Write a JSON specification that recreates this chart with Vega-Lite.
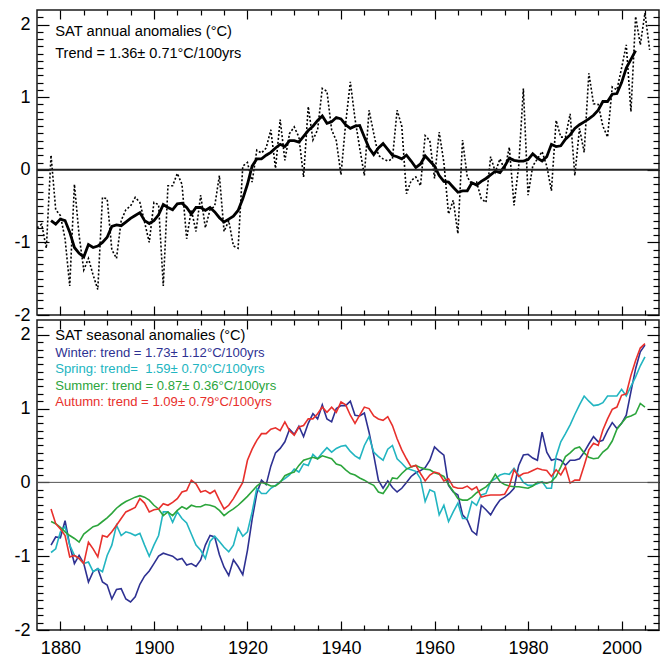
{
  "$schema": "https://vega.github.io/schema/vega-lite/v6.json",
  "autosize": {"type": "pad"},
  "padding": {"left": 13, "top": 7, "right": 4, "bottom": 0},
  "spacing": 5,
  "bounds": "flush",
  "background": "white",
  "config": {
    "view": {"stroke": "#1a1a1a", "strokeWidth": 1.5},
    "font": "Liberation Sans",
    "text": {"font": "Liberation Sans"}
  },
  "data": {"values": [{}]},
  "datasets": {
    "annual": [
      {"year":1875,"v":-0.80},{"year":1876,"v":-0.75},{"year":1877,"v":-1.08},{"year":1878,"v":0.20},{"year":1879,"v":-0.55},
      {"year":1880,"v":-0.63},{"year":1881,"v":-0.95},{"year":1882,"v":-1.60},{"year":1883,"v":-0.20},{"year":1884,"v":-0.90},
      {"year":1885,"v":-1.38},{"year":1886,"v":-1.22},{"year":1887,"v":-1.45},{"year":1888,"v":-1.65},{"year":1889,"v":-0.38},
      {"year":1890,"v":-0.40},{"year":1891,"v":-1.10},{"year":1892,"v":-1.22},{"year":1893,"v":-0.70},{"year":1894,"v":-0.55},
      {"year":1895,"v":-0.50},{"year":1896,"v":-0.38},{"year":1897,"v":-0.45},{"year":1898,"v":-0.72},{"year":1899,"v":-1.00},
      {"year":1900,"v":-0.45},{"year":1901,"v":-0.48},{"year":1902,"v":-1.60},{"year":1903,"v":-0.22},{"year":1904,"v":-0.22},
      {"year":1905,"v":-0.05},{"year":1906,"v":-0.20},{"year":1907,"v":-0.95},{"year":1908,"v":-0.55},{"year":1909,"v":-0.85},
      {"year":1910,"v":-0.35},{"year":1911,"v":-0.80},{"year":1912,"v":-0.55},{"year":1913,"v":-0.50},{"year":1914,"v":-0.08},
      {"year":1915,"v":-0.85},{"year":1916,"v":-0.70},{"year":1917,"v":-1.05},{"year":1918,"v":-1.08},{"year":1919,"v":0.05},
      {"year":1920,"v":0.10},{"year":1921,"v":-0.17},{"year":1922,"v":0.27},{"year":1923,"v":0.23},{"year":1924,"v":0.30},
      {"year":1925,"v":0.55},{"year":1926,"v":0.02},{"year":1927,"v":0.69},{"year":1928,"v":0.13},{"year":1929,"v":0.50},
      {"year":1930,"v":0.59},{"year":1931,"v":0.45},{"year":1932,"v":-0.10},{"year":1933,"v":0.87},{"year":1934,"v":0.41},
      {"year":1935,"v":0.55},{"year":1936,"v":1.12},{"year":1937,"v":1.08},{"year":1938,"v":0.55},{"year":1939,"v":0.40},
      {"year":1940,"v":-0.07},{"year":1941,"v":0.64},{"year":1942,"v":1.21},{"year":1943,"v":0.70},{"year":1944,"v":0.30},
      {"year":1945,"v":-0.08},{"year":1946,"v":0.82},{"year":1947,"v":0.50},{"year":1948,"v":0.20},{"year":1949,"v":0.15},
      {"year":1950,"v":0.12},{"year":1951,"v":0.15},{"year":1952,"v":0.82},{"year":1953,"v":0.60},{"year":1954,"v":-0.33},
      {"year":1955,"v":-0.15},{"year":1956,"v":-0.10},{"year":1957,"v":-0.22},{"year":1958,"v":0.47},{"year":1959,"v":0.40},
      {"year":1960,"v":-0.12},{"year":1961,"v":0.52},{"year":1962,"v":0.10},{"year":1963,"v":-0.61},{"year":1964,"v":-0.42},
      {"year":1965,"v":-0.88},{"year":1966,"v":0.41},{"year":1967,"v":-0.10},{"year":1968,"v":-0.20},{"year":1969,"v":-0.17},
      {"year":1970,"v":-0.40},{"year":1971,"v":-0.45},{"year":1972,"v":0.18},{"year":1973,"v":-0.03},{"year":1974,"v":0.15},
      {"year":1975,"v":0.00},{"year":1976,"v":0.31},{"year":1977,"v":-0.49},{"year":1978,"v":0.05},{"year":1979,"v":1.12},
      {"year":1980,"v":-0.35},{"year":1981,"v":0.05},{"year":1982,"v":0.15},{"year":1983,"v":0.25},{"year":1984,"v":0.05},
      {"year":1985,"v":-0.29},{"year":1986,"v":0.68},{"year":1987,"v":0.45},{"year":1988,"v":0.45},{"year":1989,"v":0.77},
      {"year":1990,"v":-0.08},{"year":1991,"v":0.57},{"year":1992,"v":0.24},{"year":1993,"v":1.33},{"year":1994,"v":0.91},
      {"year":1995,"v":0.90},{"year":1996,"v":0.60},{"year":1997,"v":0.45},{"year":1998,"v":1.14},{"year":1999,"v":1.10},
      {"year":2000,"v":1.40},{"year":2001,"v":1.72},{"year":2002,"v":0.80},{"year":2003,"v":2.11},{"year":2004,"v":1.72},
      {"year":2005,"v":2.16},{"year":2006,"v":1.65}
    ],
    "smooth": [
      {"year":1878,"v":-0.70},{"year":1879,"v":-0.75},{"year":1880,"v":-0.68},{"year":1881,"v":-0.70},{"year":1882,"v":-0.86},
      {"year":1883,"v":-1.07},{"year":1884,"v":-1.15},{"year":1885,"v":-1.20},{"year":1886,"v":-1.03},{"year":1887,"v":-1.07},
      {"year":1888,"v":-1.05},{"year":1889,"v":-1.00},{"year":1890,"v":-0.93},{"year":1891,"v":-0.78},{"year":1892,"v":-0.76},
      {"year":1893,"v":-0.77},{"year":1894,"v":-0.72},{"year":1895,"v":-0.67},{"year":1896,"v":-0.63},{"year":1897,"v":-0.59},
      {"year":1898,"v":-0.70},{"year":1899,"v":-0.74},{"year":1900,"v":-0.70},{"year":1901,"v":-0.62},{"year":1902,"v":-0.48},
      {"year":1903,"v":-0.52},{"year":1904,"v":-0.55},{"year":1905,"v":-0.47},{"year":1906,"v":-0.46},{"year":1907,"v":-0.52},
      {"year":1908,"v":-0.61},{"year":1909,"v":-0.52},{"year":1910,"v":-0.52},{"year":1911,"v":-0.56},{"year":1912,"v":-0.52},
      {"year":1913,"v":-0.58},{"year":1914,"v":-0.66},{"year":1915,"v":-0.72},{"year":1916,"v":-0.68},{"year":1917,"v":-0.64},
      {"year":1918,"v":-0.56},{"year":1919,"v":-0.40},{"year":1920,"v":-0.20},{"year":1921,"v":0.05},{"year":1922,"v":0.15},
      {"year":1923,"v":0.15},{"year":1924,"v":0.20},{"year":1925,"v":0.24},{"year":1926,"v":0.30},{"year":1927,"v":0.35},
      {"year":1928,"v":0.32},{"year":1929,"v":0.40},{"year":1930,"v":0.40},{"year":1931,"v":0.38},{"year":1932,"v":0.46},
      {"year":1933,"v":0.54},{"year":1934,"v":0.60},{"year":1935,"v":0.68},{"year":1936,"v":0.74},{"year":1937,"v":0.64},
      {"year":1938,"v":0.66},{"year":1939,"v":0.72},{"year":1940,"v":0.70},{"year":1941,"v":0.62},{"year":1942,"v":0.57},
      {"year":1943,"v":0.60},{"year":1944,"v":0.61},{"year":1945,"v":0.45},{"year":1946,"v":0.30},{"year":1947,"v":0.21},
      {"year":1948,"v":0.30},{"year":1949,"v":0.36},{"year":1950,"v":0.28},{"year":1951,"v":0.20},{"year":1952,"v":0.18},
      {"year":1953,"v":0.15},{"year":1954,"v":0.20},{"year":1955,"v":0.12},{"year":1956,"v":0.03},{"year":1957,"v":0.08},
      {"year":1958,"v":0.19},{"year":1959,"v":0.12},{"year":1960,"v":0.05},{"year":1961,"v":-0.08},{"year":1962,"v":-0.16},
      {"year":1963,"v":-0.17},{"year":1964,"v":-0.24},{"year":1965,"v":-0.31},{"year":1966,"v":-0.29},{"year":1967,"v":-0.29},
      {"year":1968,"v":-0.18},{"year":1969,"v":-0.21},{"year":1970,"v":-0.16},{"year":1971,"v":-0.12},{"year":1972,"v":-0.07},
      {"year":1973,"v":-0.02},{"year":1974,"v":-0.04},{"year":1975,"v":0.05},{"year":1976,"v":0.16},{"year":1977,"v":0.13},
      {"year":1978,"v":0.12},{"year":1979,"v":0.12},{"year":1980,"v":0.14},{"year":1981,"v":0.22},{"year":1982,"v":0.16},
      {"year":1983,"v":0.12},{"year":1984,"v":0.18},{"year":1985,"v":0.35},{"year":1986,"v":0.32},{"year":1987,"v":0.33},
      {"year":1988,"v":0.42},{"year":1989,"v":0.48},{"year":1990,"v":0.57},{"year":1991,"v":0.62},{"year":1992,"v":0.66},
      {"year":1993,"v":0.70},{"year":1994,"v":0.75},{"year":1995,"v":0.82},{"year":1996,"v":0.94},{"year":1997,"v":0.94},
      {"year":1998,"v":1.04},{"year":1999,"v":1.05},{"year":2000,"v":1.20},{"year":2001,"v":1.40},{"year":2002,"v":1.52},
      {"year":2003,"v":1.64}
    ],
    "seasonal": [
      {"year":1878,"Winter":-0.85,"Spring":-0.95,"Summer":-0.53,"Autumn":-0.36},
      {"year":1879,"Winter":-0.74,"Spring":-0.90,"Summer":-0.56,"Autumn":-0.56},
      {"year":1880,"Winter":-0.75,"Spring":-0.67,"Summer":-0.61,"Autumn":-0.63},
      {"year":1881,"Winter":-0.52,"Spring":-0.60,"Summer":-0.67,"Autumn":-0.72},
      {"year":1882,"Winter":-0.85,"Spring":-0.85,"Summer":-0.72,"Autumn":-1.01},
      {"year":1883,"Winter":-1.10,"Spring":-0.99,"Summer":-0.76,"Autumn":-0.99},
      {"year":1884,"Winter":-0.99,"Spring":-1.03,"Summer":-0.81,"Autumn":-1.03},
      {"year":1885,"Winter":-1.10,"Spring":-1.10,"Summer":-0.70,"Autumn":-1.10},
      {"year":1886,"Winter":-1.35,"Spring":-1.08,"Summer":-0.65,"Autumn":-0.81},
      {"year":1887,"Winter":-1.21,"Spring":-1.21,"Summer":-0.60,"Autumn":-0.90},
      {"year":1888,"Winter":-1.17,"Spring":-1.17,"Summer":-0.58,"Autumn":-1.01},
      {"year":1889,"Winter":-1.35,"Spring":-1.21,"Summer":-0.53,"Autumn":-0.72},
      {"year":1890,"Winter":-1.39,"Spring":-0.99,"Summer":-0.48,"Autumn":-0.74},
      {"year":1891,"Winter":-1.58,"Spring":-0.85,"Summer":-0.42,"Autumn":-0.67},
      {"year":1892,"Winter":-1.45,"Spring":-0.58,"Summer":-0.35,"Autumn":-0.58},
      {"year":1893,"Winter":-1.44,"Spring":-0.72,"Summer":-0.30,"Autumn":-0.49},
      {"year":1894,"Winter":-1.58,"Spring":-0.67,"Summer":-0.26,"Autumn":-0.40},
      {"year":1895,"Winter":-1.62,"Spring":-0.69,"Summer":-0.23,"Autumn":-0.37},
      {"year":1896,"Winter":-1.55,"Spring":-0.72,"Summer":-0.20,"Autumn":-0.34},
      {"year":1897,"Winter":-1.38,"Spring":-0.69,"Summer":-0.18,"Autumn":-0.22},
      {"year":1898,"Winter":-1.27,"Spring":-0.85,"Summer":-0.20,"Autumn":-0.28},
      {"year":1899,"Winter":-1.20,"Spring":-1.00,"Summer":-0.24,"Autumn":-0.40},
      {"year":1900,"Winter":-1.10,"Spring":-0.85,"Summer":-0.31,"Autumn":-0.37},
      {"year":1901,"Winter":-1.00,"Spring":-0.72,"Summer":-0.36,"Autumn":-0.36},
      {"year":1902,"Winter":-0.96,"Spring":-0.40,"Summer":-0.45,"Autumn":-0.29},
      {"year":1903,"Winter":-0.98,"Spring":-0.40,"Summer":-0.40,"Autumn":-0.31},
      {"year":1904,"Winter":-1.00,"Spring":-0.54,"Summer":-0.45,"Autumn":-0.27},
      {"year":1905,"Winter":-1.05,"Spring":-0.40,"Summer":-0.38,"Autumn":-0.22},
      {"year":1906,"Winter":-1.03,"Spring":-0.49,"Summer":-0.33,"Autumn":-0.13},
      {"year":1907,"Winter":-1.12,"Spring":-0.55,"Summer":-0.36,"Autumn":-0.11},
      {"year":1908,"Winter":-1.10,"Spring":-0.70,"Summer":-0.31,"Autumn":0.03},
      {"year":1909,"Winter":-1.14,"Spring":-0.85,"Summer":-0.33,"Autumn":-0.02},
      {"year":1910,"Winter":-1.05,"Spring":-0.92,"Summer":-0.33,"Autumn":-0.13},
      {"year":1911,"Winter":-0.85,"Spring":-1.03,"Summer":-0.30,"Autumn":-0.11},
      {"year":1912,"Winter":-0.72,"Spring":-0.80,"Summer":-0.31,"Autumn":-0.15},
      {"year":1913,"Winter":-0.74,"Spring":-0.73,"Summer":-0.33,"Autumn":-0.11},
      {"year":1914,"Winter":-0.98,"Spring":-0.80,"Summer":-0.38,"Autumn":-0.24},
      {"year":1915,"Winter":-1.15,"Spring":-0.88,"Summer":-0.45,"Autumn":-0.36},
      {"year":1916,"Winter":-1.26,"Spring":-0.94,"Summer":-0.40,"Autumn":-0.31},
      {"year":1917,"Winter":-1.05,"Spring":-0.85,"Summer":-0.36,"Autumn":-0.22},
      {"year":1918,"Winter":-1.14,"Spring":-0.62,"Summer":-0.31,"Autumn":-0.11},
      {"year":1919,"Winter":-1.25,"Spring":-0.73,"Summer":-0.25,"Autumn":0.00},
      {"year":1920,"Winter":-0.92,"Spring":-0.67,"Summer":-0.19,"Autumn":0.30},
      {"year":1921,"Winter":-0.50,"Spring":-0.40,"Summer":-0.12,"Autumn":0.45},
      {"year":1922,"Winter":-0.15,"Spring":-0.08,"Summer":-0.05,"Autumn":0.57},
      {"year":1923,"Winter":0.03,"Spring":-0.15,"Summer":0.00,"Autumn":0.66},
      {"year":1924,"Winter":-0.03,"Spring":-0.15,"Summer":-0.02,"Autumn":0.66},
      {"year":1925,"Winter":0.22,"Spring":-0.08,"Summer":-0.05,"Autumn":0.72},
      {"year":1926,"Winter":0.40,"Spring":-0.04,"Summer":-0.05,"Autumn":0.74},
      {"year":1927,"Winter":0.46,"Spring":0.01,"Summer":0.00,"Autumn":0.70},
      {"year":1928,"Winter":0.55,"Spring":0.05,"Summer":0.09,"Autumn":0.82},
      {"year":1929,"Winter":0.72,"Spring":0.10,"Summer":0.12,"Autumn":0.70},
      {"year":1930,"Winter":0.65,"Spring":0.18,"Summer":0.14,"Autumn":0.64},
      {"year":1931,"Winter":0.76,"Spring":0.14,"Summer":0.23,"Autumn":0.75},
      {"year":1932,"Winter":0.62,"Spring":0.25,"Summer":0.30,"Autumn":0.77},
      {"year":1933,"Winter":0.80,"Spring":0.23,"Summer":0.32,"Autumn":0.86},
      {"year":1934,"Winter":0.93,"Spring":0.38,"Summer":0.34,"Autumn":0.86},
      {"year":1935,"Winter":0.86,"Spring":0.32,"Summer":0.32,"Autumn":0.93},
      {"year":1936,"Winter":1.05,"Spring":0.40,"Summer":0.36,"Autumn":1.02},
      {"year":1937,"Winter":0.86,"Spring":0.47,"Summer":0.34,"Autumn":0.95},
      {"year":1938,"Winter":0.82,"Spring":0.41,"Summer":0.32,"Autumn":1.02},
      {"year":1939,"Winter":1.00,"Spring":0.46,"Summer":0.25,"Autumn":0.95},
      {"year":1940,"Winter":1.04,"Spring":0.49,"Summer":0.23,"Autumn":1.09},
      {"year":1941,"Winter":1.04,"Spring":0.50,"Summer":0.17,"Autumn":1.05},
      {"year":1942,"Winter":1.10,"Spring":0.42,"Summer":0.12,"Autumn":0.91},
      {"year":1943,"Winter":0.91,"Spring":0.36,"Summer":0.10,"Autumn":0.80},
      {"year":1944,"Winter":0.90,"Spring":0.32,"Summer":0.06,"Autumn":0.91},
      {"year":1945,"Winter":0.94,"Spring":0.50,"Summer":0.03,"Autumn":1.02},
      {"year":1946,"Winter":0.68,"Spring":0.62,"Summer":-0.01,"Autumn":1.00},
      {"year":1947,"Winter":0.37,"Spring":0.41,"Summer":-0.04,"Autumn":0.90},
      {"year":1948,"Winter":0.03,"Spring":0.35,"Summer":-0.13,"Autumn":0.86},
      {"year":1949,"Winter":-0.08,"Spring":0.30,"Summer":-0.15,"Autumn":0.84},
      {"year":1950,"Winter":0.02,"Spring":0.45,"Summer":-0.06,"Autumn":0.89},
      {"year":1951,"Winter":-0.07,"Spring":0.50,"Summer":0.06,"Autumn":0.77},
      {"year":1952,"Winter":-0.13,"Spring":0.32,"Summer":0.05,"Autumn":0.59},
      {"year":1953,"Winter":-0.08,"Spring":0.26,"Summer":0.12,"Autumn":0.44},
      {"year":1954,"Winter":0.00,"Spring":0.19,"Summer":0.18,"Autumn":0.32},
      {"year":1955,"Winter":0.08,"Spring":0.17,"Summer":0.21,"Autumn":0.21},
      {"year":1956,"Winter":0.13,"Spring":0.15,"Summer":0.23,"Autumn":0.23},
      {"year":1957,"Winter":0.16,"Spring":0.05,"Summer":0.20,"Autumn":0.12},
      {"year":1958,"Winter":0.20,"Spring":-0.26,"Summer":0.18,"Autumn":0.02},
      {"year":1959,"Winter":0.30,"Spring":-0.10,"Summer":0.17,"Autumn":0.10},
      {"year":1960,"Winter":0.48,"Spring":-0.13,"Summer":0.13,"Autumn":0.14},
      {"year":1961,"Winter":0.42,"Spring":-0.44,"Summer":0.11,"Autumn":0.12},
      {"year":1962,"Winter":0.37,"Spring":-0.31,"Summer":0.08,"Autumn":0.02},
      {"year":1963,"Winter":-0.04,"Spring":-0.53,"Summer":-0.03,"Autumn":0.05},
      {"year":1964,"Winter":-0.13,"Spring":-0.40,"Summer":-0.12,"Autumn":-0.06},
      {"year":1965,"Winter":-0.17,"Spring":-0.28,"Summer":-0.22,"Autumn":-0.08},
      {"year":1966,"Winter":-0.44,"Spring":-0.49,"Summer":-0.24,"Autumn":-0.08},
      {"year":1967,"Winter":-0.51,"Spring":-0.49,"Summer":-0.24,"Autumn":-0.05},
      {"year":1968,"Winter":-0.66,"Spring":-0.26,"Summer":-0.20,"Autumn":-0.10},
      {"year":1969,"Winter":-0.71,"Spring":-0.31,"Summer":-0.14,"Autumn":-0.06},
      {"year":1970,"Winter":-0.31,"Spring":-0.17,"Summer":-0.10,"Autumn":-0.20},
      {"year":1971,"Winter":-0.37,"Spring":-0.15,"Summer":-0.06,"Autumn":-0.18},
      {"year":1972,"Winter":-0.44,"Spring":0.01,"Summer":0.00,"Autumn":-0.17},
      {"year":1973,"Winter":-0.33,"Spring":0.05,"Summer":0.11,"Autumn":-0.17},
      {"year":1974,"Winter":-0.24,"Spring":0.10,"Summer":0.01,"Autumn":-0.17},
      {"year":1975,"Winter":-0.20,"Spring":0.12,"Summer":-0.03,"Autumn":-0.16},
      {"year":1976,"Winter":-0.15,"Spring":0.11,"Summer":-0.05,"Autumn":-0.05},
      {"year":1977,"Winter":-0.08,"Spring":0.19,"Summer":-0.06,"Autumn":0.17},
      {"year":1978,"Winter":0.23,"Spring":0.10,"Summer":-0.06,"Autumn":0.08},
      {"year":1979,"Winter":0.37,"Spring":0.00,"Summer":-0.07,"Autumn":0.12},
      {"year":1980,"Winter":0.38,"Spring":-0.04,"Summer":-0.08,"Autumn":0.13},
      {"year":1981,"Winter":0.33,"Spring":-0.04,"Summer":-0.05,"Autumn":0.16},
      {"year":1982,"Winter":0.30,"Spring":-0.02,"Summer":0.00,"Autumn":0.19},
      {"year":1983,"Winter":0.68,"Spring":0.01,"Summer":0.00,"Autumn":0.17},
      {"year":1984,"Winter":0.41,"Spring":-0.08,"Summer":-0.01,"Autumn":0.16},
      {"year":1985,"Winter":0.30,"Spring":-0.08,"Summer":0.01,"Autumn":0.08},
      {"year":1986,"Winter":0.32,"Spring":0.35,"Summer":0.08,"Autumn":0.17},
      {"year":1987,"Winter":0.30,"Spring":0.55,"Summer":0.21,"Autumn":0.10},
      {"year":1988,"Winter":0.23,"Spring":0.66,"Summer":0.35,"Autumn":0.21},
      {"year":1989,"Winter":0.30,"Spring":0.78,"Summer":0.40,"Autumn":-0.01},
      {"year":1990,"Winter":0.30,"Spring":0.92,"Summer":0.46,"Autumn":0.03},
      {"year":1991,"Winter":0.32,"Spring":1.05,"Summer":0.48,"Autumn":0.03},
      {"year":1992,"Winter":0.41,"Spring":1.17,"Summer":0.40,"Autumn":0.23},
      {"year":1993,"Winter":0.52,"Spring":1.10,"Summer":0.34,"Autumn":0.44},
      {"year":1994,"Winter":0.62,"Spring":1.04,"Summer":0.32,"Autumn":0.53},
      {"year":1995,"Winter":0.55,"Spring":1.05,"Summer":0.33,"Autumn":0.50},
      {"year":1996,"Winter":0.57,"Spring":1.08,"Summer":0.41,"Autumn":0.71},
      {"year":1997,"Winter":0.70,"Spring":1.17,"Summer":0.46,"Autumn":0.86},
      {"year":1998,"Winter":0.81,"Spring":1.17,"Summer":0.56,"Autumn":0.99},
      {"year":1999,"Winter":0.73,"Spring":1.17,"Summer":0.72,"Autumn":1.02},
      {"year":2000,"Winter":0.80,"Spring":1.26,"Summer":0.80,"Autumn":1.18},
      {"year":2001,"Winter":0.91,"Spring":1.17,"Summer":0.88,"Autumn":1.20},
      {"year":2002,"Winter":1.23,"Spring":1.30,"Summer":0.90,"Autumn":1.45},
      {"year":2003,"Winter":1.54,"Spring":1.43,"Summer":0.93,"Autumn":1.65},
      {"year":2004,"Winter":1.77,"Spring":1.58,"Summer":1.07,"Autumn":1.82},
      {"year":2005,"Winter":1.86,"Spring":1.70,"Summer":1.02,"Autumn":1.88}
    ]
  },
  "vconcat": [
    {
      "width": 622,
      "height": 305,
      "layer": [
        {
          "data": {"name": "annual"},
          "mark": {"type": "line", "color": "#000", "strokeWidth": 1.6, "strokeDash": [2, 2], "clip": true},
          "encoding": {
            "x": {"field": "year", "type": "quantitative", "scale": {"domain": [1875, 2008], "nice": false, "zero": false},
              "axis": {"orient": "bottom", "values": [1880,1885,1890,1895,1900,1905,1910,1915,1920,1925,1930,1935,1940,1945,1950,1955,1960,1965,1970,1975,1980,1985,1990,1995,2000,2005],
                "labels": false, "domain": false, "grid": false, "title": null, "tickColor": "#000", "tickWidth": 1.2,
                "tickSize": {"condition": {"test": "datum.value % 20 === 0", "value": -9}, "value": -5}}},
            "y": {"field": "v", "type": "quantitative", "scale": {"domain": [-2, 2.2], "nice": false, "zero": false},
              "axis": {"orient": "left", "values": [-2,-1.9,-1.8,-1.7,-1.6,-1.5,-1.4,-1.3,-1.2,-1.1,-1,-0.9,-0.8,-0.7,-0.6,-0.5,-0.4,-0.3,-0.2,-0.1,0,0.1,0.2,0.3,0.4,0.5,0.6,0.7,0.8,0.9,1,1.1,1.2,1.3,1.4,1.5,1.6,1.7,1.8,1.9,2,2.1],
                "labelExpr": "abs(datum.value - round(datum.value)) < 0.001 ? '' + round(datum.value) : ''",
                "labelOverlap": false, "labelFlush": false, "labelBound": false,
                "labelFont": "Liberation Sans", "labelFontSize": 18, "labelColor": "#000", "labelPadding": 19,
                "domain": false, "grid": false, "title": null, "tickColor": "#000", "tickWidth": 1.2,
                "tickSize": {"condition": {"test": "abs(datum.value - round(datum.value)) < 0.001", "value": -12}, "value": -6}}}
          }
        },
        {
          "data": {"name": "smooth"},
          "mark": {"type": "line", "color": "#000", "strokeWidth": 2.8, "clip": true},
          "encoding": {
            "x": {"field": "year", "type": "quantitative", "axis": null},
            "y": {"field": "v", "type": "quantitative", "axis": null}
          }
        },
        {
          "mark": {"type": "rule", "color": "#222", "strokeWidth": 2},
          "encoding": {"y": {"datum": 0, "type": "quantitative", "axis": null}}
        },
        {
          "mark": {"type": "text", "text": "SAT annual anomalies (°C)", "align": "left", "baseline": "middle", "fontSize": 14.7, "color": "#000"},
          "encoding": {
            "x": {"datum": 1878.9, "type": "quantitative",
              "axis": {"orient": "top", "values": [1880,1885,1890,1895,1900,1905,1910,1915,1920,1925,1930,1935,1940,1945,1950,1955,1960,1965,1970,1975,1980,1985,1990,1995,2000,2005],
                "labels": false, "domain": false, "grid": false, "title": null, "tickColor": "#000", "tickWidth": 1.2,
                "tickSize": {"condition": {"test": "datum.value % 20 === 0", "value": -9}, "value": -5}}},
            "y": {"datum": 1.9, "type": "quantitative",
              "axis": {"orient": "right", "values": [-2,-1.9,-1.8,-1.7,-1.6,-1.5,-1.4,-1.3,-1.2,-1.1,-1,-0.9,-0.8,-0.7,-0.6,-0.5,-0.4,-0.3,-0.2,-0.1,0,0.1,0.2,0.3,0.4,0.5,0.6,0.7,0.8,0.9,1,1.1,1.2,1.3,1.4,1.5,1.6,1.7,1.8,1.9,2,2.1],
                "labels": false, "domain": false, "grid": false, "title": null, "tickColor": "#000", "tickWidth": 1.2,
                "tickSize": {"condition": {"test": "abs(datum.value - round(datum.value)) < 0.001", "value": -12}, "value": -6}}}
          }
        },
        {
          "mark": {"type": "text", "text": "Trend = 1.36± 0.71°C/100yrs", "align": "left", "baseline": "middle", "fontSize": 14.5, "color": "#000"},
          "encoding": {
            "x": {"datum": 1878.9, "type": "quantitative", "axis": null},
            "y": {"datum": 1.595, "type": "quantitative", "axis": null}
          }
        }
      ],
      "resolve": {"axis": {"x": "independent", "y": "independent"}}
    },
    {
      "width": 622,
      "height": 310,
      "layer": [
        {
          "data": {"name": "seasonal"},
          "transform": [{"fold": ["Winter", "Spring", "Summer", "Autumn"], "as": ["season", "v"]}],
          "mark": {"type": "line", "strokeWidth": 1.6, "clip": true},
          "encoding": {
            "x": {"field": "year", "type": "quantitative", "scale": {"domain": [1875, 2008], "nice": false, "zero": false},
              "axis": {"orient": "bottom", "values": [1880,1885,1890,1895,1900,1905,1910,1915,1920,1925,1930,1935,1940,1945,1950,1955,1960,1965,1970,1975,1980,1985,1990,1995,2000,2005],
                "labelExpr": "datum.value % 20 === 0 ? '' + datum.value : ''",
                "labelOverlap": false, "labelFlush": false, "labelBound": false,
                "labelFont": "Liberation Sans", "labelFontSize": 18, "labelColor": "#000", "labelPadding": 18,
                "domain": false, "grid": false, "title": null, "tickColor": "#000", "tickWidth": 1.2,
                "tickSize": {"condition": {"test": "datum.value % 20 === 0", "value": -9}, "value": -5}}},
            "y": {"field": "v", "type": "quantitative", "scale": {"domain": [-2, 2.2], "nice": false, "zero": false},
              "axis": {"orient": "left", "values": [-2,-1.9,-1.8,-1.7,-1.6,-1.5,-1.4,-1.3,-1.2,-1.1,-1,-0.9,-0.8,-0.7,-0.6,-0.5,-0.4,-0.3,-0.2,-0.1,0,0.1,0.2,0.3,0.4,0.5,0.6,0.7,0.8,0.9,1,1.1,1.2,1.3,1.4,1.5,1.6,1.7,1.8,1.9,2,2.1],
                "labelExpr": "abs(datum.value - round(datum.value)) < 0.001 ? '' + round(datum.value) : ''",
                "labelOverlap": false, "labelFlush": false, "labelBound": false,
                "labelFont": "Liberation Sans", "labelFontSize": 18, "labelColor": "#000", "labelPadding": 19,
                "domain": false, "grid": false, "title": null, "tickColor": "#000", "tickWidth": 1.2,
                "tickSize": {"condition": {"test": "abs(datum.value - round(datum.value)) < 0.001", "value": -12}, "value": -6}}},
            "color": {"field": "season", "type": "nominal", "legend": null,
              "scale": {"domain": ["Winter", "Spring", "Summer", "Autumn"], "range": ["#2E3192", "#22B5C1", "#2CA53C", "#E8302C"]}}
          }
        },
        {
          "mark": {"type": "rule", "color": "#555", "strokeWidth": 1},
          "encoding": {"y": {"datum": 0, "type": "quantitative", "axis": null}}
        },
        {
          "mark": {"type": "text", "text": "SAT seasonal anomalies (°C)", "align": "left", "baseline": "middle", "fontSize": 14.6, "color": "#000"},
          "encoding": {
            "x": {"datum": 1878.9, "type": "quantitative",
              "axis": {"orient": "top", "values": [1880,1885,1890,1895,1900,1905,1910,1915,1920,1925,1930,1935,1940,1945,1950,1955,1960,1965,1970,1975,1980,1985,1990,1995,2000,2005],
                "labels": false, "domain": false, "grid": false, "title": null, "tickColor": "#000", "tickWidth": 1.2,
                "tickSize": {"condition": {"test": "datum.value % 20 === 0", "value": -9}, "value": -5}}},
            "y": {"datum": 1.98, "type": "quantitative",
              "axis": {"orient": "right", "values": [-2,-1.9,-1.8,-1.7,-1.6,-1.5,-1.4,-1.3,-1.2,-1.1,-1,-0.9,-0.8,-0.7,-0.6,-0.5,-0.4,-0.3,-0.2,-0.1,0,0.1,0.2,0.3,0.4,0.5,0.6,0.7,0.8,0.9,1,1.1,1.2,1.3,1.4,1.5,1.6,1.7,1.8,1.9,2,2.1],
                "labels": false, "domain": false, "grid": false, "title": null, "tickColor": "#000", "tickWidth": 1.2,
                "tickSize": {"condition": {"test": "abs(datum.value - round(datum.value)) < 0.001", "value": -12}, "value": -6}}}
          }
        },
        {
          "mark": {"type": "text", "text": "Winter: trend = 1.73± 1.12°C/100yrs", "align": "left", "baseline": "middle", "fontSize": 13.1, "color": "#2E3192"},
          "encoding": {"x": {"datum": 1878.9, "type": "quantitative", "axis": null}, "y": {"datum": 1.753, "type": "quantitative", "axis": null}}
        },
        {
          "mark": {"type": "text", "text": "Spring: trend=\u00a0 1.59± 0.70°C/100yrs", "align": "left", "baseline": "middle", "fontSize": 13.1, "color": "#22B5C1"},
          "encoding": {"x": {"datum": 1878.9, "type": "quantitative", "axis": null}, "y": {"datum": 1.536, "type": "quantitative", "axis": null}}
        },
        {
          "mark": {"type": "text", "text": "Summer: trend = 0.87± 0.36°C/100yrs", "align": "left", "baseline": "middle", "fontSize": 13.1, "color": "#2CA53C"},
          "encoding": {"x": {"datum": 1878.9, "type": "quantitative", "axis": null}, "y": {"datum": 1.306, "type": "quantitative", "axis": null}}
        },
        {
          "mark": {"type": "text", "text": "Autumn: trend = 1.09± 0.79°C/100yrs", "align": "left", "baseline": "middle", "fontSize": 13.1, "color": "#E8302C"},
          "encoding": {"x": {"datum": 1878.9, "type": "quantitative", "axis": null}, "y": {"datum": 1.088, "type": "quantitative", "axis": null}}
        }
      ],
      "resolve": {"axis": {"x": "independent", "y": "independent"}}
    }
  ]
}
